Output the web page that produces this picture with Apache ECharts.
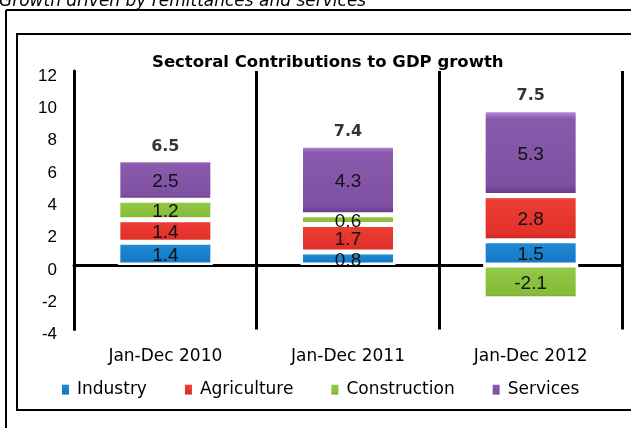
<!DOCTYPE html>
<html>
<head>
<meta charset="utf-8">
<title>Sectoral Contributions to GDP growth</title>
<script src="https://cdn.jsdelivr.net/npm/echarts@6/dist/echarts.min.js"></script>
<style>
  html, body { margin: 0; padding: 0; background: #fff; }
  #chart { width: 631px; height: 428px; }
</style>
</head>
<body>
<div id="chart"></div>
<script>
// Periods on the category axis
const categories = ['Jan-Dec 2010', 'Jan-Dec 2011', 'Jan-Dec 2012'];

// Contribution of each sector to GDP growth (percentage points)
const industry = [1.4, 0.8, 1.5];
const agriculture = [1.4, 1.7, 2.8];
const construction = [1.2, 0.6, -2.1];
const services = [2.5, 4.3, 5.3];

// Overall GDP growth printed above each column
const totals = [6.5, 7.4, 7.5];

// Value-axis ticks
const yMin = -4;
const yMax = 12;
const yStep = 2;

const sectors = [
  { name: 'Industry', data: industry, colors: ['#5cc0f5', '#1f8ad4', '#1478c4', '#0b5c9c'] },
  { name: 'Agriculture', data: agriculture, colors: ['#ff8a80', '#ec3d33', '#e0302a', '#b81e1a'] },
  { name: 'Construction', data: construction, colors: ['#c2e889', '#92c845', '#84bb38', '#5e9222'] },
  { name: 'Services', data: services, colors: ['#c99ae6', '#8a5aad', '#7f4fa2', '#5e3580'] }
];

function bevel(c) {
  return {
    type: 'linear', x: 0, y: 0, x2: 0, y2: 1,
    colorStops: [
      { offset: 0, color: c[0] },
      { offset: 0.1, color: c[1] },
      { offset: 0.88, color: c[2] },
      { offset: 1, color: c[3] }
    ]
  };
}

// Height of the positive part of each stacked column, used to seat the total label
const positiveTop = categories.map((_, i) =>
  sectors.reduce((s, sec) => s + Math.max(0, sec.data[i]), 0));

const barSeries = sectors.map(sec => ({
  name: sec.name,
  type: 'bar',
  stack: 'gdp',
  xAxisIndex: 0,
  barWidth: '52%',
  data: sec.data,
  itemStyle: { color: bevel(sec.colors), borderColor: '#ffffff', borderWidth: 2.5 },
  label: {
    show: true,
    position: 'inside',
    offset: [0, 2],
    formatter: p => p.value.toFixed(1),
    fontFamily: '"Liberation Sans", Arial, sans-serif',
    fontSize: 19,
    color: '#111'
  },
  emphasis: { disabled: true }
}));

const totalSeries = {
  name: 'Total',
  type: 'scatter',
  xAxisIndex: 0,
  symbolSize: 1,
  itemStyle: { color: 'rgba(0,0,0,0)' },
  data: positiveTop,
  silent: true,
  z: 5,
  label: {
    show: true,
    position: 'top',
    distance: 5,
    formatter: p => totals[p.dataIndex].toFixed(1),
    fontFamily: '"DejaVu Sans", sans-serif',
    fontWeight: 'bold',
    fontSize: 16,
    color: '#000'
  }
};

const chart = echarts.init(document.getElementById('chart'), null, { renderer: 'canvas' });

chart.setOption({
  animation: false,
  backgroundColor: '#ffffff',
  title: {
    text: 'Sectoral Contributions to GDP growth',
    left: 152,
    top: 54,
    padding: 0,
    textStyle: {
      fontFamily: '"DejaVu Sans", sans-serif',
      fontWeight: 'bold',
      fontSize: 16.5,
      color: '#000'
    }
  },
  legend: {
    data: sectors.map(s => s.name),
    left: 62,
    top: 381,
    padding: 0,
    icon: 'rect',
    itemWidth: 7,
    itemHeight: 10,
    itemGap: 38,
    itemStyle: { borderWidth: 0 },
    textStyle: {
      fontFamily: '"DejaVu Sans", sans-serif',
      fontSize: 17,
      color: '#000',
      padding: [0, 0, 0, 3]
    }
  },
  grid: { left: 74, right: 9, top: 71, bottom: 98.5, containLabel: false },
  xAxis: [
    {
      type: 'category',
      data: categories,
      axisLine: { show: false, onZero: false },
      axisTick: { show: false },
      axisLabel: {
        margin: 19,
        fontFamily: '"DejaVu Sans", sans-serif',
        fontSize: 17,
        color: '#000'
      },
      splitLine: { show: true, lineStyle: { color: '#000', width: 3 } }
    },
    {
      type: 'category',
      data: categories,
      position: 'bottom',
      axisLine: { show: true, onZero: true, lineStyle: { color: '#000', width: 3 } },
      axisTick: { show: false },
      axisLabel: { show: false },
      splitLine: { show: false }
    }
  ],
  yAxis: {
    type: 'value',
    min: yMin,
    max: yMax,
    interval: yStep,
    axisLine: { show: true, lineStyle: { color: '#000', width: 3 } },
    axisTick: { show: false },
    splitLine: { show: false },
    axisLabel: {
      margin: 17,
      verticalAlign: 'top',
      lineHeight: 10,
      fontFamily: '"Liberation Sans", Arial, sans-serif',
      fontSize: 17,
      color: '#000'
    }
  },
  graphic: [
    {
      type: 'text',
      x: -1,
      y: 10,
      style: {
        text: 'Growth driven by remittances and services',
        font: 'italic 17px "DejaVu Sans", sans-serif',
        fill: '#000',
        verticalAlign: 'bottom'
      },
      silent: true
    },
    { type: 'line', shape: { x1: 6, y1: 10, x2: 631, y2: 10 }, style: { stroke: '#000', lineWidth: 2 }, silent: true },
    { type: 'line', shape: { x1: 6, y1: 10, x2: 6, y2: 428 }, style: { stroke: '#000', lineWidth: 2 }, silent: true },
    { type: 'rect', shape: { x: 17, y: 34, width: 640, height: 376 }, style: { fill: 'none', stroke: '#000', lineWidth: 2 }, silent: true }
  ],
  series: barSeries.concat([totalSeries])
});
</script>
</body>
</html>
